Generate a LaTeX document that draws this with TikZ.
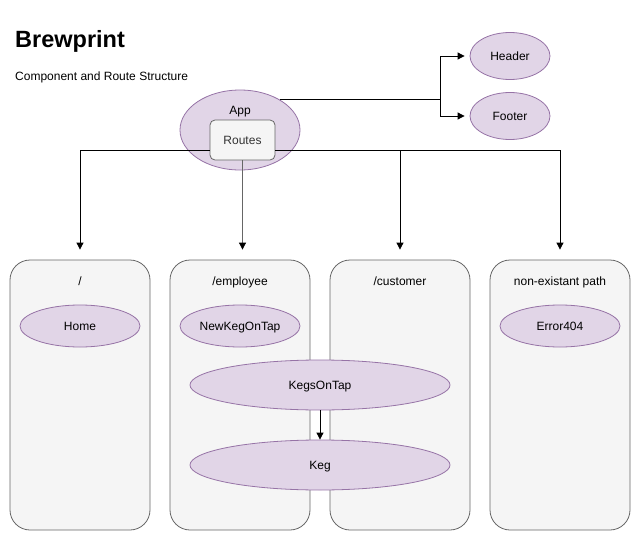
\documentclass[tikz,border=0pt]{standalone}
\usepackage{fontspec}
\setmainfont{Liberation Sans}
\usetikzlibrary{shapes.geometric,arrows.meta,calc}
\definecolor{pfill}{HTML}{E1D5E7}
\definecolor{pdraw}{HTML}{9673A6}
\definecolor{gfill}{HTML}{F5F5F5}
\definecolor{gdraw}{HTML}{666666}
\begin{document}
\begin{tikzpicture}[x=1pt,y=-1pt,
  every node/.style={font=\fontsize{12}{14}\selectfont,text height=8.8pt,text depth=0pt},
  comp/.style={ellipse,draw=pdraw,fill=pfill,inner sep=0pt,line width=0.8pt},
  routebox/.style={rectangle,rounded corners=5pt,draw=gdraw,fill=gfill,minimum width=65pt,minimum height=40pt,inner sep=0pt,text=black!80,line width=0.8pt},
  page/.style={rectangle,rounded corners=20pt,draw=gdraw,fill=gfill,minimum width=140pt,minimum height=270pt,inner sep=0pt,line width=0.8pt},
  lbl/.style={inner sep=0pt},
  conn/.style={-{Triangle[length=7pt,width=7pt]},line width=0.8pt},
]
\useasboundingbox (0,0) rectangle (641,541);
% title
\node[lbl,anchor=base west,font=\fontsize{23.5}{28}\selectfont\bfseries] (title) at (15,47.7) {Brewprint};
\node[lbl,anchor=base west] (sub) at (15,80) {Component and Route Structure};
% pages
\node[page] (c1) at (80,395) {};
\node[page] (c2) at (240,395) {};
\node[page] (c3) at (400,395) {};
\node[page] (c4) at (560,395) {};
\node[lbl] (l1) at ([yshift=-21pt]c1.north) {/};
\node[lbl] (l2) at ([yshift=-21pt]c2.north) {/employee};
\node[lbl] (l3) at ([yshift=-21pt]c3.north) {/customer};
\node[lbl] (l4) at ([yshift=-21pt]c4.north) {non-existant path};
% components
\node[comp,minimum width=120pt,minimum height=42pt] (Home) at (80,326) {Home};
\node[comp,minimum width=120pt,minimum height=42pt] (New) at (240,326) {NewKegOnTap};
\node[comp,minimum width=120pt,minimum height=42pt] (Err) at (560,326) {Error404};
\node[comp,minimum width=260pt,minimum height=50pt] (KOT) at (320,385) {KegsOnTap};
\node[comp,minimum width=260pt,minimum height=50pt] (Keg) at (320,465) {Keg};
\draw[conn] (KOT) -- (Keg);
% app
\node[comp,minimum width=120pt,minimum height=80pt] (App) at (240,130) {};
\node[lbl] (appl) at (240,110) {App};
\node[routebox] (Routes) at (242.5,140) {Routes};
\node[comp,minimum width=80pt,minimum height=47pt] (Header) at (510,56) {Header};
\node[comp,minimum width=80pt,minimum height=47pt] (Footer) at (510,116) {Footer};
% connectors
\coordinate (hj) at (App.37 -| 440,0);
\draw[line width=0.8pt] (App.37) -- (hj);
\draw[conn,shorten >=5pt] (hj) |- (Header.west);
\draw[conn,shorten >=5pt] (hj) |- (Footer.west);
\coordinate (rl) at ([yshift=-10pt]Routes.west);
\coordinate (rr) at ([yshift=-10pt]Routes.east);
\draw[conn,shorten >=10pt] (rl) -| (c1.north);
\draw[conn,shorten >=10pt] (rr) -| (c4.north);
\draw[conn,shorten >=10pt] (rr -| c3.north) -- (c3.north);
\draw[-{Triangle[length=7pt,width=7pt,color=black]},line width=0.8pt,draw=gdraw,shorten >=10pt] (Routes.south) -- (Routes.south |- c2.north);
\end{tikzpicture}
\end{document}
